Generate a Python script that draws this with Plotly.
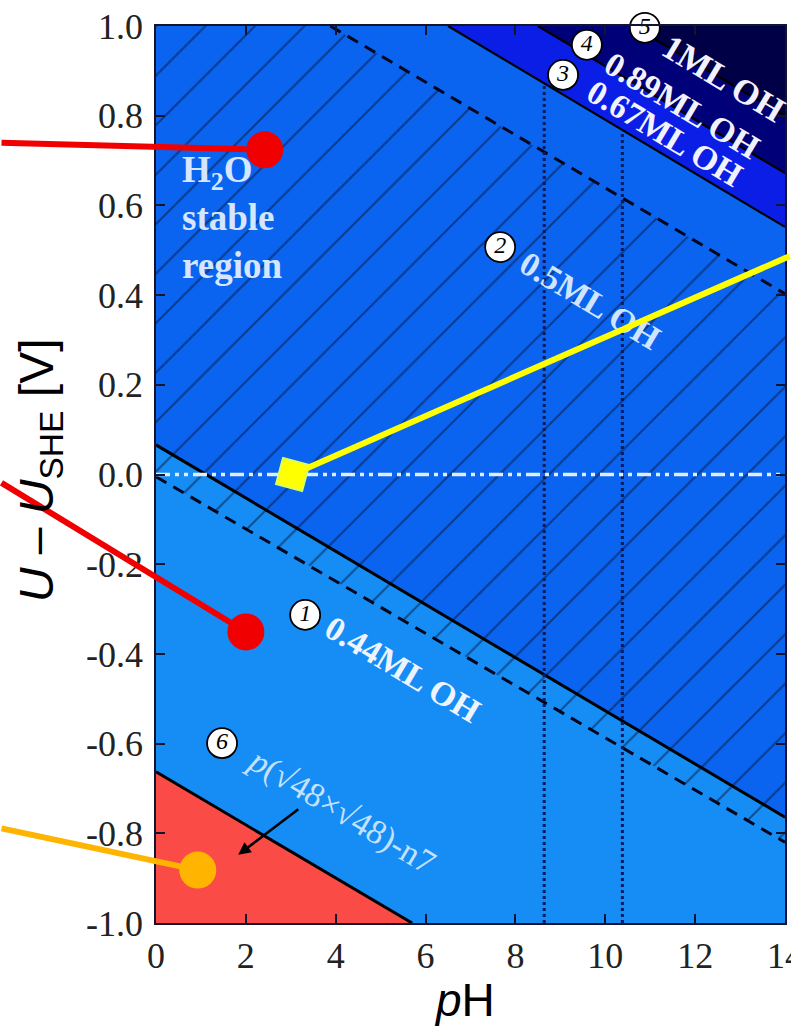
import plotly.graph_objects as go

# ---------------- axes / ticks ----------------
PH_RANGE = [0.0, 14.0]
U_RANGE = [-1.0, 1.0]
x_tickvals = [0, 2, 4, 6, 8, 10, 12, 14]
x_ticktext = ["0", "2", "4", "6", "8", "10", "12", "14"]
y_tickvals = [1.0, 0.8, 0.6, 0.4, 0.2, 0.0, -0.2, -0.4, -0.6, -0.8, -1.0]
y_ticktext = ["1.0", "0.8", "0.6", "0.4", "0.2", "0.0", "-0.2", "-0.4", "-0.6", "-0.8", "-1.0"]

# ---------------- phase boundaries (pH, U) ----------------
n7_ph = [0.0, 5.7]            # p(sqrt48 x sqrt48)-n7 / 0.44ML OH
n7_u = [-0.663, -1.0]
ml044_ph = [0.0, 14.0]        # 0.44ML OH / 0.5ML OH
ml044_u = [0.066, -0.764]
ml05_ph = [6.5, 14.0]         # 0.5ML OH / 0.67ML OH
ml05_u = [1.0, 0.552]
ml067_ph = [8.5, 14.0]        # 0.67ML OH / 0.89ML OH
ml067_u = [1.0, 0.672]
ml089_ph = [10.6, 14.0]       # 0.89ML OH / 1ML OH
ml089_u = [1.0, 0.80]

# water stability lines
h2_ph = [0.0, 14.0]
h2_u = [-0.005, -0.82]
o2_ph = [3.88, 14.0]
o2_u = [1.0, 0.403]

# vertical dotted guides
vline_ph = [8.64, 10.38]
vline_top_u = [0.868, 0.766]

# U = 0 reference
she_ph = [0.0, 14.0]
she_u = [0.0, 0.0]

# region colors
col_n7 = "#fa4b46"
col_044 = "#168cf5"
col_05 = "#0a64f0"
col_067 = "#0a1ee6"
col_089 = "#000078"
col_1 = "#000046"

# circled labels
circ_ph = [3.32, 7.66, 9.06, 9.59, 10.88, 1.47]
circ_u = [-0.313, 0.507, 0.891, 0.958, 0.996, -0.599]
circ_lbl = ["1", "2", "3", "4", "5", "6"]

# rotated phase labels
lab_text = ["<b>0.44ML OH</b>", "<b>0.5ML OH</b>", "<b>0.67ML OH</b>", "<b>0.89ML OH</b>",
            "<b>1ML OH</b>", "<i>p</i>(√48×√48)-n7"]
lab_ph = [5.50, 9.66, 11.33, 11.71, 12.62, 4.12]
lab_u = [-0.434, 0.389, 0.761, 0.822, 0.884, -0.75]
lab_col = ["#eef4ff", "#cfe4ff", "#f2f2ff", "#f2f2ff", "#f2f2ff", "#c4e2ff"]
lab_size = [34, 34, 34, 34, 35, 34]

# callout markers (pH, U)
red_ph = [2.42, 2.0]
red_u = [0.724, -0.351]
orange_ph = [0.93]
orange_u = [-0.882]
yellow_ph = [3.04]
yellow_u = [0.0]

fig = go.Figure()

def poly(xs, ys, color):
    fig.add_trace(go.Scatter(x=xs, y=ys, mode="lines", fill="toself", fillcolor=color,
                             line=dict(width=0, color=color), hoverinfo="skip", showlegend=False))

XMIN, XMAX = PH_RANGE
YMIN, YMAX = U_RANGE

# regions
poly(n7_ph + [XMIN], n7_u + [YMIN], col_n7)
poly(ml044_ph + [XMAX, XMIN], ml044_u + [YMAX, YMAX], col_05)
poly(ml05_ph + [XMAX], ml05_u + [YMAX], col_067)
poly(ml067_ph + [XMAX], ml067_u + [YMAX], col_089)
poly(ml089_ph + [XMAX], ml089_u + [YMAX], col_1)

# hatched water-stable region
fig.add_trace(go.Scatter(
    x=h2_ph + o2_ph[::-1] + [XMIN], y=h2_u + o2_u[::-1] + [YMAX],
    mode="lines", fill="toself", fillcolor="rgba(0,0,0,0)",
    fillpattern=dict(shape="/", size=35, solidity=0.06, fgcolor="#06122e",
                     bgcolor="rgba(0,0,0,0)", fillmode="overlay"),
    line=dict(width=0), hoverinfo="skip", showlegend=False))

# boundary lines
for xs, ys, w in [(n7_ph, n7_u, 3), (ml044_ph, ml044_u, 3), (ml05_ph, ml05_u, 2.2),
                  (ml067_ph, ml067_u, 2.2), (ml089_ph, ml089_u, 2.2)]:
    fig.add_trace(go.Scatter(x=xs, y=ys, mode="lines", line=dict(color="black", width=w),
                             hoverinfo="skip", showlegend=False))

# water lines dashed
for xs, ys in [(h2_ph, h2_u), (o2_ph, o2_u)]:
    fig.add_trace(go.Scatter(x=xs, y=ys, mode="lines",
                             line=dict(color="#03061a", width=3, dash="12px,8px"),
                             hoverinfo="skip", showlegend=False))

# vertical dotted lines
for p, top in zip(vline_ph, vline_top_u):
    fig.add_trace(go.Scatter(x=[p, p], y=[YMIN, top], mode="lines",
                             line=dict(color="#0a1a5e", width=3, dash="3px,3px"),
                             hoverinfo="skip", showlegend=False))

# U=0 dash-dot white line
fig.add_trace(go.Scatter(x=she_ph, y=she_u, mode="lines",
                         line=dict(color="#e2ecf8", width=3.5, dash="14px,5px,4px,5px,4px,5px"),
                         hoverinfo="skip", showlegend=False))

# circled numbers
fig.add_trace(go.Scatter(x=circ_ph, y=circ_u, mode="markers+text", text=circ_lbl,
                         textposition="middle center",
                         textfont=dict(family="Liberation Serif", size=24, color="black",
                                       style="italic"),
                         marker=dict(size=30, color="white", line=dict(color="black", width=1.8)),
                         hoverinfo="skip", showlegend=False, cliponaxis=False))

# callout markers
fig.add_trace(go.Scatter(x=red_ph, y=red_u, mode="markers",
                         marker=dict(size=37, color="#f00000"), hoverinfo="skip",
                         showlegend=False, cliponaxis=False))
fig.add_trace(go.Scatter(x=orange_ph, y=orange_u, mode="markers",
                         marker=dict(size=37, color="#ffb400"), hoverinfo="skip",
                         showlegend=False, cliponaxis=False))
fig.add_trace(go.Scatter(x=yellow_ph, y=yellow_u, mode="markers",
                         marker=dict(size=27, color="#ffff00", symbol="square", angle=15,
                                     line=dict(color="#d8ff60", width=2)),
                         hoverinfo="skip", showlegend=False, cliponaxis=False))

annotations = []
# H2O stable region text
annotations.append(dict(x=0.53, y=0.572, xref="x", yref="y", xanchor="left", yanchor="middle",
                        align="left", showarrow=False,
                        text="<b>H<sub>2</sub>O<br>stable<br>region</b>",
                        font=dict(family="Liberation Serif", size=37, color="#d6e6ff")))
for t, px, pu, c, s in zip(lab_text, lab_ph, lab_u, lab_col, lab_size):
    annotations.append(dict(x=px, y=pu, xref="x", yref="y", showarrow=False, textangle=31,
                            xanchor="center", yanchor="middle", text=t,
                            font=dict(family="Liberation Serif", size=s, color=c)))
# black arrow to n7 region
annotations.append(dict(x=1.83, y=-0.848, ax=3.20, ay=-0.744, xref="x", yref="y",
                        axref="x", ayref="y", text="", showarrow=True, arrowhead=2,
                        arrowsize=1, arrowwidth=2.5, arrowcolor="black"))
# callout lines (pixel offsets to image edge)
for px, pu, ax, ay, col, so in [(red_ph[0], red_u[0], -268, -7, "#f00000", 18),
                                 (red_ph[1], red_u[1], -250, -150, "#f00000", 18),
                                 (orange_ph[0], orange_u[0], -202, -42, "#ffb400", 18),
                                 (yellow_ph[0], yellow_u[0], 505, -219, "#ffff00", 10)]:
    annotations.append(dict(x=px, y=pu, xref="x", yref="y", ax=ax, ay=ay, text="",
                            showarrow=True, arrowhead=0, arrowwidth=6, arrowcolor=col,
                            standoff=so))
# axis titles
annotations.append(dict(x=-0.184, y=0.505, xref="paper", yref="paper", showarrow=False,
                        xanchor="center", yanchor="middle",
                        textangle=-90, text="<i>U</i> – <i>U</i><sub>SHE</sub> [V]",
                        font=dict(family="Liberation Sans", size=48, color="black")))
annotations.append(dict(x=0.491, y=-0.086, xref="paper", yref="paper", showarrow=False,
                        xanchor="center", yanchor="middle",
                        text="<i>p</i>H",
                        font=dict(family="Liberation Sans", size=46, color="black")))

fig.update_layout(
    width=791, height=1031,
    margin=dict(l=156, r=6, t=26, b=108, autoexpand=False),
    paper_bgcolor="white", plot_bgcolor=col_044,
    annotations=annotations,
    showlegend=False,
)
axis_common = dict(showgrid=False, zeroline=False, showline=True, linecolor="#141430",
                   linewidth=1.5, mirror="ticks", ticks="inside", ticklen=9, tickwidth=1.5,
                   tickcolor="#141430", automargin=False, ticklabeloverflow="allow",
                   tickfont=dict(family="Liberation Serif", size=36, color="#222222"))
fig.update_xaxes(range=PH_RANGE, tickvals=x_tickvals, ticktext=x_ticktext, **axis_common)
fig.update_yaxes(range=U_RANGE, tickvals=y_tickvals, ticktext=y_ticktext,
                 ticklabelstandoff=4, **axis_common)

fig.write_html("out.html", config={"displayModeBar": False},
               post_script="document.body.style.margin='0px';document.body.style.overflow='hidden';")
